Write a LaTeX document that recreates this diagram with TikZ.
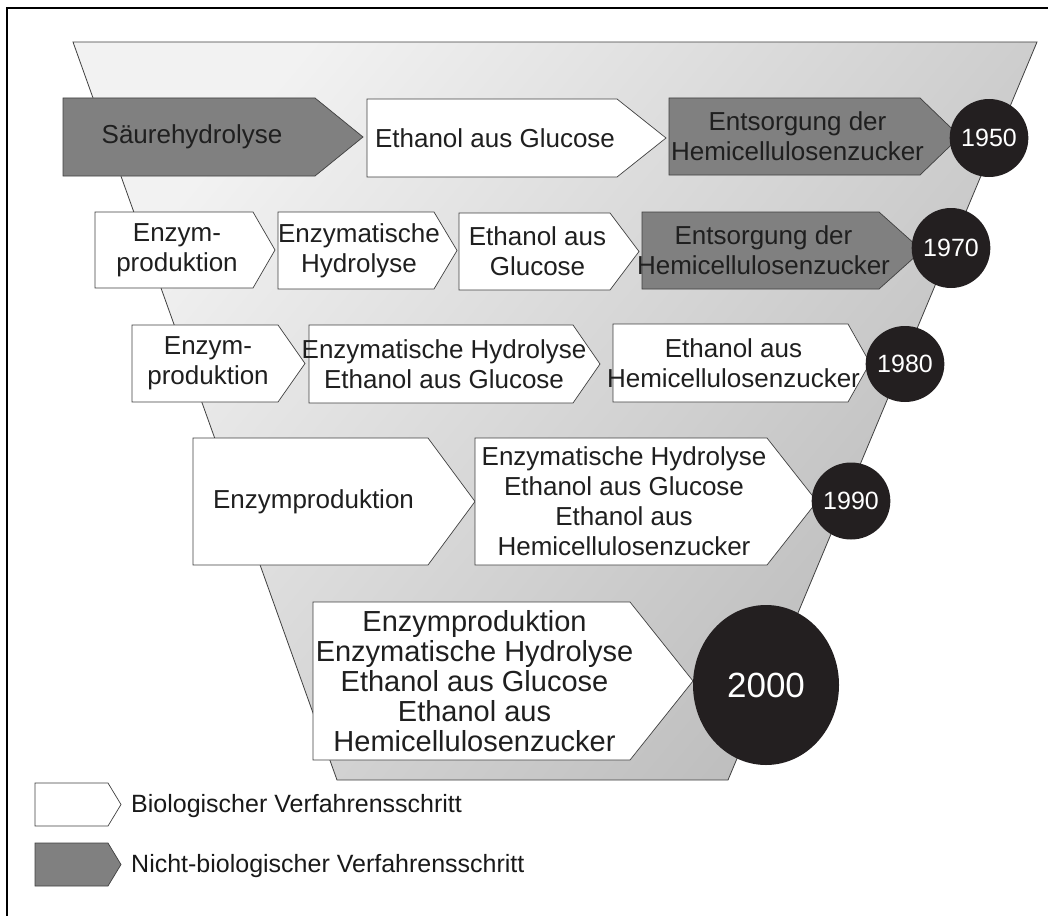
\documentclass[tikz,border=0pt]{standalone}
\usepackage{fontspec}
\setmainfont{Liberation Sans}
\usepackage{tikz}
\usetikzlibrary{shapes.geometric}
\usepackage{xcolor}
\definecolor{stepgray}{RGB}{128,128,128}
\definecolor{yearblack}{RGB}{35,31,32}
\definecolor{edgegray}{RGB}{64,64,64}

% step arrow: style, name, left, top, bottom, point start, tip, text
\newcommand{\procbox}[8]{%
  \filldraw[#1] (#3,#4) -- (#6,#4) -- (#7,{(#4+#5)/2}) -- (#6,#5) -- (#3,#5) -- cycle;
  \node[steptext] (#2) at ({(#3+#6)/2+3},{(#4+#5)/2}) {#8};
}

\begin{document}
\begin{tikzpicture}[x=1pt,y=-1pt,
  bio/.style={fill=white,draw=edgegray,line width=0.7pt},
  nonbio/.style={fill=stepgray,draw=edgegray,line width=0.7pt},
  steptext/.style={align=center,inner sep=0pt,text=black!88,font=\fontsize{26}{30}\selectfont},
  year/.style={ellipse,fill=yearblack,text=white,inner sep=0pt,font=\fontsize{25}{28}\selectfont},
  legendtext/.style={anchor=west,inner sep=0pt,text=black!90,font=\fontsize{25}{30}\selectfont}]
\useasboundingbox (0,0) rectangle (1048,915);
\clip (0,0) rectangle (1048,915);
%%%FRAME
\draw[line width=2pt] (7,8) rectangle (1070,940);
%%%FUNNEL
\shadedraw[left color=black!5,right color=black!27,shading angle=50,draw=edgegray,line width=0.8pt]
  (73,42) -- (1037,42) -- (728,780) -- (337,780) -- cycle;
%%%1950
\procbox{nonbio}{saeure}{63}{98}{176}{315}{363}{Säurehydrolyse}
\procbox{bio}{ethgluA}{367}{99}{177}{617}{666}{Ethanol aus Glucose}
\procbox{nonbio}{entsA}{669}{98}{175}{920}{960}{Entsorgung der\\Hemicellulosenzucker}
\node[year,minimum width=66pt,minimum height=78pt] (y1950) at (989,138) {1950};
%%%1970
\procbox{bio}{enzprodB}{95}{212}{288}{253}{275}{Enzym-\\produktion}
\procbox{bio}{enzhydB}{278}{212}{289}{434}{457}{Enzymatische\\Hydrolyse}
\procbox{bio}{ethgluB}{459}{213}{290}{610}{639}{Ethanol aus\\Glucose}
\procbox{nonbio}{entsB}{642}{212}{289}{879}{922}{Entsorgung der\\Hemicellulosenzucker}
\node[year,minimum width=67pt,minimum height=80pt] (y1970) at (951,248) {1970};
%%%1980
\procbox{bio}{enzprodC}{132}{325}{402}{278}{305}{Enzym-\\produktion}
\procbox{bio}{enzhydC}{309}{325}{403}{573}{600}{Enzymatische Hydrolyse\\Ethanol aus Glucose}
\procbox{bio}{ethhemC}{613}{324}{402}{848}{870}{Ethanol aus\\Hemicellulosenzucker}
\node[year,minimum width=70pt,minimum height=76pt] (y1980) at (905,364) {1980};
%%%1990
\procbox{bio}{enzprodD}{193}{438}{565}{428}{475}{Enzymproduktion}
\procbox{bio}{allD}{475}{438}{565}{767}{817}{Enzymatische Hydrolyse\\Ethanol aus Glucose\\Ethanol aus\\Hemicellulosenzucker}
\node[year,minimum width=72pt,minimum height=77pt] (y1990) at (851,501) {1990};
%%%2000
\begin{scope}[steptext/.append style={font=\fontsize{29}{30}\selectfont}]
\procbox{bio}{allE}{313}{602}{760}{630}{693}{Enzymproduktion\\Enzymatische Hydrolyse\\Ethanol aus Glucose\\Ethanol aus\\Hemicellulosenzucker}
\end{scope}
\node[year,minimum width=146pt,minimum height=160pt,font=\fontsize{35}{40}\selectfont] (y2000) at (766,685) {2000};
%%%LEGEND
\procbox{bio}{legbio}{35}{783}{826}{108}{121}{}
\node[legendtext] (legbiotext) at (131,806) {Biologischer Verfahrensschritt};
\procbox{nonbio}{legnonbio}{35}{843}{886}{108}{121}{}
\node[legendtext] (legnonbiotext) at (131,866) {Nicht-biologischer Verfahrensschritt};
\end{tikzpicture}
\end{document}
